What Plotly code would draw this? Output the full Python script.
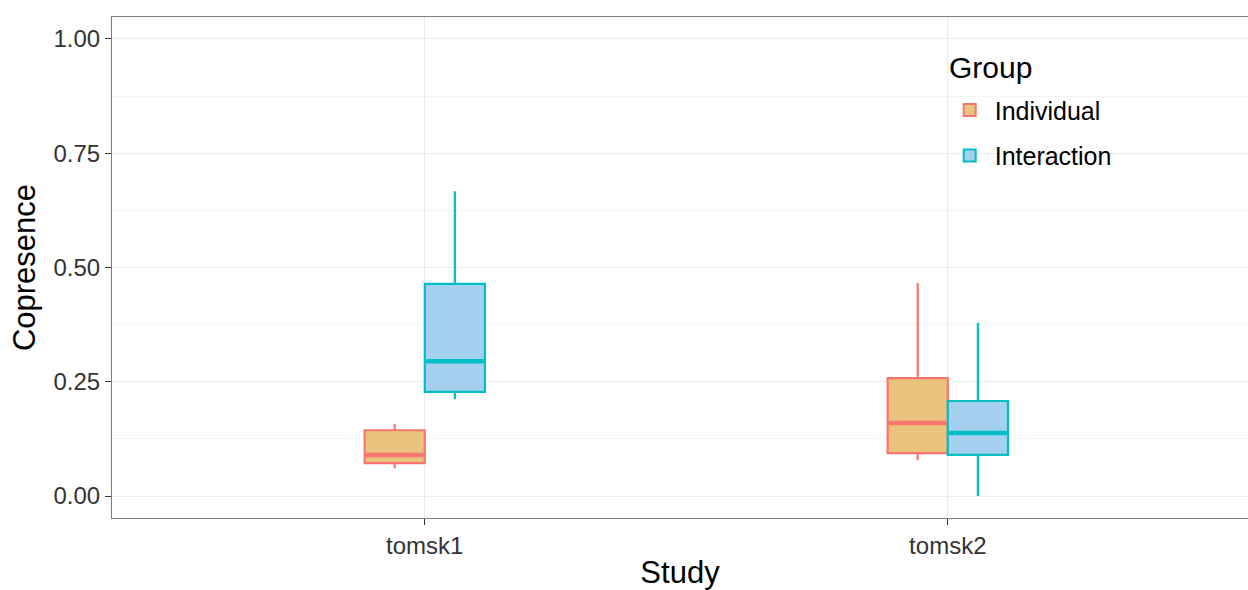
import plotly.graph_objects as go

studies = ["tomsk1", "tomsk2"]
groups = ["Individual", "Interaction"]
# per group: values for tomsk1, tomsk2
ind_low = [0.061, 0.079]
ind_q1 = [0.072, 0.094]
ind_med = [0.090, 0.160]
ind_q3 = [0.144, 0.258]
ind_high = [0.158, 0.466]

int_low = [0.212, 0.0]
int_q1 = [0.228, 0.090]
int_med = [0.295, 0.138]
int_q3 = [0.464, 0.208]
int_high = [0.667, 0.379]

y_ticks = [0.0, 0.25, 0.5, 0.75, 1.0]
legend_title = "Group"

line_cols = ["#F8766D", "#00BFC4"]
fill_cols = ["rgb(234,196,126)", "rgb(165,208,240)"]

fig = go.Figure()
fig.add_trace(go.Box(
    name=groups[0], x=studies, q1=ind_q1, median=ind_med, q3=ind_q3,
    lowerfence=ind_low, upperfence=ind_high, legendgroup="a",
    offsetgroup="ba", alignmentgroup="box",
    fillcolor=fill_cols[0], line=dict(color=line_cols[0], width=2.2),
    whiskerwidth=0, boxpoints=False,
))
fig.add_trace(go.Box(
    name=groups[1], x=studies, q1=int_q1, median=int_med, q3=int_q3,
    lowerfence=int_low, upperfence=int_high, legendgroup="b",
    offsetgroup="bb", alignmentgroup="box",
    fillcolor=fill_cols[1], line=dict(color=line_cols[1], width=2.2),
    whiskerwidth=0, boxpoints=False,
))
# thicker median bars, as ggplot draws them
for name, med, col, og in [(groups[0], ind_med, line_cols[0], "ma"),
                           (groups[1], int_med, line_cols[1], "mb")]:
    fig.add_trace(go.Scatter(
        x=studies, y=med, mode="markers", offsetgroup=og, alignmentgroup="med",
        name=name, showlegend=False, hoverinfo="skip",
        marker=dict(symbol="line-ew", size=41, color=col,
                    line=dict(color=col, width=4.5)),
    ))

font = "Liberation Sans, Arial, Helvetica, sans-serif"
fig.update_layout(
    width=1248, height=590,
    margin=dict(l=112, r=0, t=17, b=72),
    paper_bgcolor="white", plot_bgcolor="white",
    boxmode="group", boxgap=0.77, boxgroupgap=0,
    scattermode="group", scattergap=0.77,
    font=dict(family=font, size=24, color="#333333"),
    legend=dict(
        x=0.733, y=0.86, xanchor="left", yanchor="top",
        bgcolor="rgba(0,0,0,0)", font=dict(size=25, color="black"),
        tracegroupgap=10, itemsizing="constant", itemwidth=40,
    ),
    showlegend=True,
    annotations=[dict(
        text=legend_title, xref="paper", yref="paper", x=0.735, y=0.9,
        xanchor="left", yanchor="middle", showarrow=False,
        font=dict(size=30, color="black"),
    )],
)
fig.update_xaxes(
    title=dict(text="Study", font=dict(size=31, color="black"), standoff=4),
    showgrid=True, gridcolor="#EBEBEB", gridwidth=1,
    showline=True, linecolor="#7F7F7F", linewidth=1.2, mirror=True,
    ticks="outside", ticklen=6, tickcolor="#333333",
    tickfont=dict(size=24, color="#333333"),
    range=[-0.598, 1.574],
)
fig.update_yaxes(
    title=dict(text="Copresence", font=dict(size=31, color="black"), standoff=8),
    range=[-0.048, 1.048],
    tickvals=y_ticks, ticktext=[f"{v:.2f}" for v in y_ticks],
    showgrid=True, gridcolor="#EBEBEB", gridwidth=1.2,
    minor=dict(tickvals=[0.125, 0.375, 0.625, 0.875], showgrid=True,
               gridcolor="#F4F4F4", gridwidth=0.8, ticks=""),
    zeroline=False,
    showline=True, linecolor="#7F7F7F", linewidth=1.2, mirror=True,
    ticks="outside", ticklen=6, tickcolor="#333333",
    tickfont=dict(size=24, color="#333333"),
)
fig.write_html("out.html", config={"displayModeBar": False},
               post_script="document.body.style.margin='0';document.body.style.overflow='hidden';")
